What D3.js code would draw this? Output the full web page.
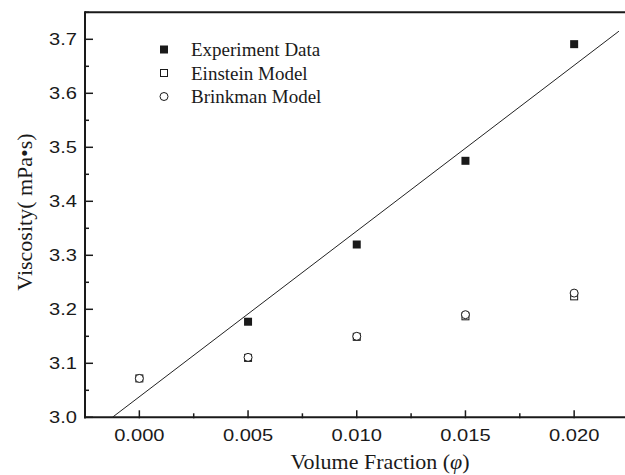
<!DOCTYPE html>
<html><head><meta charset="utf-8">
<script src="https://cdn.jsdelivr.net/npm/d3@7"></script>
<style>html,body{margin:0;padding:0;background:#fff;}svg{display:block;}</style>
</head><body>
<svg id="c" width="625" height="475"></svg>
<script>
const phi = [0.000, 0.005, 0.010, 0.015, 0.020];
const experimentX = [0.005, 0.010, 0.015, 0.020];
const experiment = [3.177, 3.320, 3.475, 3.691];
const einstein = [3.072, 3.110, 3.149, 3.187, 3.224];
const brinkman = [3.072, 3.111, 3.150, 3.190, 3.230];
const fitX = [-0.00124, 0.02206];
const fitY = [3.000, 3.715];
const xTicks = [0.000, 0.005, 0.010, 0.015, 0.020];
const yTicks = [3.0, 3.1, 3.2, 3.3, 3.4, 3.5, 3.6, 3.7];
const legendLabels = ["Experiment Data", "Einstein Model", "Brinkman Model"];

const svg = d3.select("#c");
const x = d3.scaleLinear().domain([-0.0025, 0.0225]).range([85, 628.5]);
const y = d3.scaleLinear().domain([3.0, 3.75]).range([417.3, 12.3]);
const ink = "#1a1a1a";
const sans = "Liberation Sans, Arial, sans-serif";
const serif = "Liberation Serif, Times New Roman, serif";
const stretch = 1.22;

// top border
svg.append("line").attr("x1", 85).attr("x2", 625).attr("y1", y(3.75)).attr("y2", y(3.75))
  .attr("stroke", ink).attr("stroke-width", 2);

// x axis
const xMinor = d3.range(-0.0025, 0.0226, 0.005).map(v => +v.toFixed(4));
const gx = svg.append("g").attr("transform", `translate(0,${y(3.0)})`);
gx.append("line").attr("x1", 84).attr("x2", 625).attr("stroke", ink).attr("stroke-width", 2);
gx.selectAll(".mj").data(xTicks).join("line").attr("x1", d => x(d)).attr("x2", d => x(d))
  .attr("y1", 1).attr("y2", -7).attr("stroke", ink).attr("stroke-width", 1.5);
gx.selectAll(".mn").data(xMinor).join("line").attr("x1", d => x(d)).attr("x2", d => x(d))
  .attr("y1", 1).attr("y2", -4).attr("stroke", ink).attr("stroke-width", 1.5);
gx.selectAll("text").data(xTicks).join("text")
  .attr("transform", d => `translate(${x(d)},24) scale(${stretch},1)`)
  .attr("text-anchor", "middle").attr("font-family", sans)
  .attr("font-size", 16.5).attr("fill", ink).text(d => d3.format(".3f")(d));

// y axis
const yMinor = d3.range(3.05, 3.75, 0.1).map(v => +v.toFixed(2));
const gy = svg.append("g").attr("transform", `translate(85,0)`);
gy.append("line").attr("y1", y(3.75) - 1).attr("y2", y(3.0) + 1).attr("stroke", ink).attr("stroke-width", 2);
gy.selectAll(".mj").data(yTicks).join("line").attr("y1", d => y(d)).attr("y2", d => y(d))
  .attr("x1", 0).attr("x2", 8).attr("stroke", ink).attr("stroke-width", 1.5);
gy.selectAll(".mn").data(yMinor).join("line").attr("y1", d => y(d)).attr("y2", d => y(d))
  .attr("x1", 0).attr("x2", 4).attr("stroke", ink).attr("stroke-width", 1.5);
gy.selectAll("text").data(yTicks).join("text")
  .attr("transform", d => `translate(-8,${y(d) + 6}) scale(${stretch},1)`)
  .attr("text-anchor", "end").attr("font-family", sans)
  .attr("font-size", 16.5).attr("fill", ink).text(d => d3.format(".1f")(d));

// fit line
svg.append("path").datum(fitX.map((v, i) => [v, fitY[i]]))
  .attr("d", d3.line().x(d => x(d[0])).y(d => y(d[1])))
  .attr("fill", "none").attr("stroke", "#222").attr("stroke-width", 1);

// markers
const sq = 7;
svg.selectAll(".es").data(phi.map((v, i) => [v, einstein[i]])).join("rect")
  .attr("x", d => x(d[0]) - sq / 2).attr("y", d => y(d[1]) - sq / 2).attr("width", sq).attr("height", sq)
  .attr("fill", "none").attr("stroke", ink).attr("stroke-width", 1);
svg.selectAll(".bc").data(phi.map((v, i) => [v, brinkman[i]])).join("circle")
  .attr("cx", d => x(d[0])).attr("cy", d => y(d[1])).attr("r", 4)
  .attr("fill", "#fff").attr("stroke", ink).attr("stroke-width", 1);
svg.selectAll(".ex").data(experimentX.map((v, i) => [v, experiment[i]])).join("rect")
  .attr("x", d => x(d[0]) - 4).attr("y", d => y(d[1]) - 4).attr("width", 8).attr("height", 8)
  .attr("fill", ink);

// legend
const lg = svg.append("g");
const ly = [49.5, 73, 96.5];
lg.append("rect").attr("x", 160).attr("y", ly[0] - 4).attr("width", 8).attr("height", 8).attr("fill", ink);
lg.append("rect").attr("x", 160.5).attr("y", ly[1] - 3.5).attr("width", 7).attr("height", 7)
  .attr("fill", "none").attr("stroke", ink).attr("stroke-width", 1);
lg.append("circle").attr("cx", 164).attr("cy", ly[2]).attr("r", 4)
  .attr("fill", "none").attr("stroke", ink).attr("stroke-width", 1);
lg.selectAll("text").data(legendLabels).join("text").attr("x", 191).attr("y", (d, i) => ly[i] + 6.5)
  .attr("font-family", serif).attr("font-size", 19)
  .attr("fill", ink).text(d => d);

// axis titles
const xt = svg.append("text").attr("x", 380).attr("y", 469).attr("text-anchor", "middle")
  .attr("font-family", serif).attr("font-size", 22).attr("fill", ink);
xt.append("tspan").text("Volume Fraction (");
xt.append("tspan").attr("font-style", "italic").text("φ");
xt.append("tspan").text(")");
svg.append("text").attr("transform", "translate(32,212) rotate(-90)").attr("text-anchor", "middle")
  .attr("font-family", serif).attr("font-size", 22).attr("fill", ink)
  .text("Viscosity( mPa•s)");
</script>
</body></html>
